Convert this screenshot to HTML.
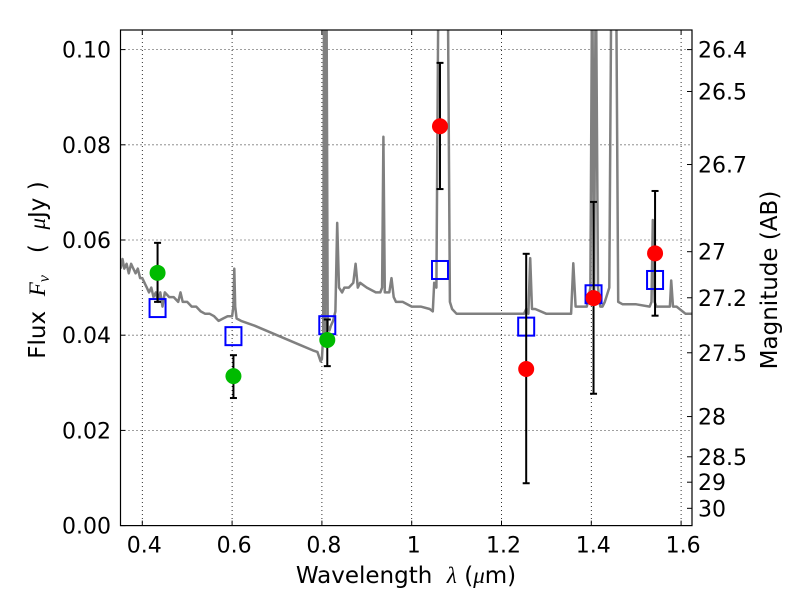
<!DOCTYPE html>
<html><head><meta charset="utf-8"><style>
body{margin:0;background:#fff;}
svg{display:block;font-family:"DejaVu Sans","Liberation Sans",sans-serif;}
</style></head><body>
<svg id="chart" width="800" height="600" viewBox="0 0 800 600"></svg>
<script>
const xTicks=[0.4,0.6,0.8,1.0,1.2,1.4,1.6];
const xTickLabels=["0.4","0.6","0.8","1","1.2","1.4","1.6"];
const yTicks=[0,0.02,0.04,0.06,0.08,0.10];
const yTickLabels=["0.00","0.02","0.04","0.06","0.08","0.10"];
const magTicks=[26.4,26.5,26.7,27,27.2,27.5,28,28.5,29,30];
const magTickLabels=["26.4","26.5","26.7","27","27.2","27.5","28","28.5","29","30"];
const specWave=[0.352,0.356,0.36,0.365,0.37,0.375,0.38,0.385,0.39,0.395,0.4,0.405,0.41,0.415,0.42,0.425,0.43,0.435,0.44,0.445,0.45,0.46,0.47,0.48,0.485,0.49,0.5,0.51,0.52,0.53,0.54,0.55,0.56,0.57,0.58,0.59,0.6,0.603,0.605,0.607,0.61,0.62,0.65,0.7,0.75,0.78,0.79,0.797,0.8,0.803,0.805,0.807,0.81,0.813,0.817,0.82,0.825,0.83,0.834,0.838,0.845,0.85,0.86,0.87,0.875,0.88,0.885,0.9,0.92,0.93,0.934,0.937,0.94,0.95,0.955,0.96,0.965,0.98,1.0,1.02,1.04,1.047,1.05,1.055,1.06,1.065,1.075,1.08,1.085,1.09,1.1,1.15,1.2,1.25,1.255,1.26,1.264,1.268,1.275,1.3,1.35,1.355,1.36,1.365,1.37,1.39,1.398,1.402,1.406,1.41,1.415,1.42,1.425,1.43,1.44,1.445,1.45,1.455,1.46,1.47,1.5,1.53,1.534,1.537,1.541,1.545,1.56,1.57,1.575,1.578,1.582,1.59,1.61,1.625];
const specFlux=[0.054,0.056,0.054,0.055,0.053,0.055,0.054,0.053,0.054,0.052,0.052,0.051,0.050,0.049,0.050,0.048,0.049,0.047,0.049,0.046,0.049,0.048,0.048,0.047,0.049,0.047,0.047,0.046,0.046,0.045,0.0445,0.0445,0.044,0.043,0.0435,0.044,0.044,0.046,0.054,0.046,0.0435,0.043,0.042,0.040,0.038,0.0368,0.0365,0.0345,0.035,0.04,0.12,0.04,0.12,0.042,0.041,0.042,0.043,0.045,0.0636,0.05,0.049,0.050,0.050,0.051,0.055,0.050,0.051,0.050,0.049,0.049,0.05,0.0817,0.049,0.049,0.052,0.048,0.047,0.047,0.046,0.046,0.0455,0.045,0.051,0.05,0.12,0.12,0.12,0.12,0.047,0.0455,0.0445,0.0445,0.0445,0.0445,0.0455,0.0445,0.0562,0.0455,0.0455,0.0445,0.0445,0.0445,0.0551,0.046,0.046,0.046,0.05,0.12,0.047,0.12,0.05,0.046,0.046,0.047,0.05,0.12,0.12,0.12,0.047,0.0465,0.0465,0.046,0.047,0.0642,0.047,0.046,0.046,0.046,0.046,0.0515,0.046,0.046,0.0445,0.0445];
const obsWave=[0.434,0.603,0.812,1.063,1.255,1.405,1.542];
const obsFlux=[0.0531,0.0314,0.0390,0.0839,0.0329,0.0478,0.0572];
const errHi=[0.0594,0.0358,0.0433,0.0972,0.0571,0.0680,0.0703];
const errLo=[0.0470,0.0268,0.0335,0.0707,0.0089,0.0277,0.0441];
const obsColors=["#00bb00","#00bb00","#00bb00","#ff0000","#ff0000","#ff0000","#ff0000"];
const modelFlux=[0.0457,0.0398,0.0421,0.0537,0.0418,0.0486,0.0516];

const L=120.5,R=692,T=30,B=525.6;
const X=v=>142.3+(v-0.4)*449;
const Y=v=>B-v*4760;
const NS="http://www.w3.org/2000/svg";
const svg=document.getElementById('chart');
function mk(tag,attrs,parent){const e=document.createElementNS(NS,tag);for(const k in attrs)e.setAttribute(k,attrs[k]);(parent||svg).appendChild(e);return e;}

const defs=mk('defs',{});const cp=mk('clipPath',{id:'clip'},defs);mk('rect',{x:L,y:T,width:R-L,height:B-T},cp);

const grid=mk('g',{});


xTicks.forEach((v,i)=>{
  mk('line',{x1:X(v),x2:X(v),y1:T,y2:B,stroke:'#000','stroke-width':0.8,'stroke-dasharray':'1,3'},grid);
  mk('line',{x1:X(v),x2:X(v),y1:B,y2:B-5,stroke:'#000'});
  mk('line',{x1:X(v),x2:X(v),y1:T,y2:T+5,stroke:'#000'});
  const t=mk('text',{x:X(v)+2,y:B+27,'font-size':22,'text-anchor':'middle'});t.textContent=xTickLabels[i];
  
  
});
yTicks.forEach((v,i)=>{
  mk('line',{x1:L,x2:R,y1:Y(v),y2:Y(v),stroke:'#000','stroke-width':0.8,'stroke-dasharray':'1,3'},grid);
  mk('line',{x1:L,x2:L+5,y1:Y(v),y2:Y(v),stroke:'#000'});
  const t=mk('text',{x:111,y:Y(v)+8,'font-size':22,'text-anchor':'end'});t.textContent=yTickLabels[i];
  
  
});
magTicks.forEach((m,i)=>{
  const f=Math.pow(10,(23.9-m)/2.5);const y=Y(f);
  mk('line',{x1:R,x2:R-5,y1:y,y2:y,stroke:'#000'});
  const t=mk('text',{x:698,y:y+8,'font-size':22});t.textContent=magTickLabels[i];
  
  
});

const plot=mk('g',{'clip-path':'url(#clip)'});
let d='';specWave.forEach((w,i)=>{d+=(i?'L':'M')+X(w).toFixed(1)+','+Y(specFlux[i]).toFixed(1);});
const sp=mk('path',{d:d,fill:'none',stroke:'#808080','stroke-width':2.5,'stroke-linejoin':'round'},plot);



obsWave.forEach((w,i)=>{
  const x=X(w);
  const sq=mk('rect',{x:x-8,y:Y(modelFlux[i])-9,width:16,height:18,fill:'none',stroke:'#0000ff','stroke-width':2},plot);
  
  
  const eb=mk('g',{stroke:'#000','stroke-width':2},plot);
  
  
  mk('line',{x1:x,x2:x,y1:Y(errHi[i]),y2:Y(errLo[i])},eb);
  mk('line',{x1:x-3.5,x2:x+3.5,y1:Y(errHi[i]),y2:Y(errHi[i])},eb);
  mk('line',{x1:x-3.5,x2:x+3.5,y1:Y(errLo[i]),y2:Y(errLo[i])},eb);
  const c=mk('circle',{cx:x,cy:Y(obsFlux[i]),r:8,fill:obsColors[i]},plot);
  
  
});

const fr=mk('rect',{x:L,y:T,width:R-L,height:B-T,fill:'none',stroke:'#000','stroke-width':1.2});



const xl=mk('text',{x:406,y:583,'font-size':23,'text-anchor':'middle','xml:space':'preserve'});
xl.setAttribute('style','white-space:pre');
xl.innerHTML='Wavelength  <tspan font-family="Liberation Serif" font-style="italic">λ</tspan> (<tspan font-family="Liberation Serif" font-style="italic">μ</tspan>m)';


const yl=mk('text',{x:0,y:0,'font-size':23,'text-anchor':'middle',transform:'translate(45,270) rotate(-90)'});
yl.setAttribute('style','white-space:pre');
yl.innerHTML='Flux  <tspan font-family="Liberation Serif" font-style="italic">F<tspan font-size="16" dy="4">ν</tspan></tspan><tspan dy="-4">   (  </tspan><tspan font-family="Liberation Serif" font-style="italic">μ</tspan>Jy )';


const rl=mk('text',{x:0,y:0,'font-size':23,'text-anchor':'middle',transform:'translate(777,280) rotate(-90)'});
rl.textContent='Magnitude (AB)';


</script>
</body></html>
